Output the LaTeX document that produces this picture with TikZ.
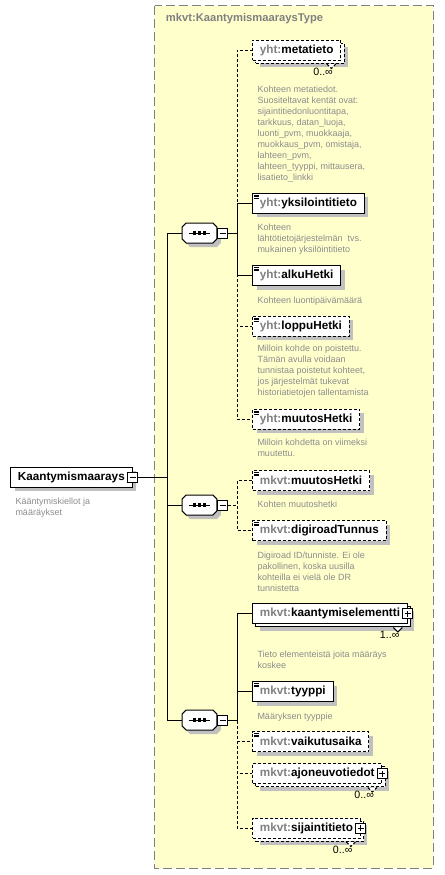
\documentclass[tikz,border=0pt]{standalone}
\usepackage{fontspec}
\setmainfont{Liberation Sans}
\usetikzlibrary{positioning,shadows,shapes.misc,calc}
\definecolor{typefill}{HTML}{FFFFCC}
\definecolor{typeline}{HTML}{808080}
\definecolor{pfx}{HTML}{808080}
\definecolor{doc}{HTML}{8C8C8C}
\definecolor{shade}{HTML}{C0C0C0}

\begin{document}
\begin{tikzpicture}
[x=0.75pt,y=-0.75pt,line width=0.75pt,
 elem/.style={draw,fill=white,anchor=west,minimum height=15pt,inner xsep=5.5pt,inner ysep=0pt,
   font=\fontsize{8.8}{10}\selectfont\bfseries},
 one/.style={drop shadow={shadow xshift=3pt,shadow yshift=-3pt,fill=shade,opacity=1}},
 many/.style={drop shadow={shadow xshift=5.25pt,shadow yshift=-5.25pt,fill=shade,opacity=1},
   general shadow={draw,fill=white,shadow xshift=2.6pt,shadow yshift=-2.6pt}},
 opt/.style={dash pattern=on 2.25pt off 1.5pt},
 leaf/.style={path picture={\foreach \k in {1.5pt,2.6pt,3.7pt}
   \draw[line width=0.5pt,solid] ([xshift=1pt,yshift=-\k]path picture bounding box.north west) -- +(3.8pt,0);}},
 seq/.style={chamfered rectangle,chamfered rectangle xsep=1.5pt,chamfered rectangle ysep=1.5pt,draw,fill=white,
   inner xsep=11.5pt,inner ysep=6pt,one,
   path picture={\draw[line width=0.75pt] ([xshift=-8pt]path picture bounding box.center) -- ([xshift=8pt]path picture bounding box.center);
     \foreach \d in {-3.75pt,0pt,3.75pt}
       \fill[black] ([xshift=\d]path picture bounding box.center) +(-1.2pt,-1.2pt) rectangle +(1.2pt,1.2pt);}},
 tog/.style={draw,fill=white,rectangle,minimum size=7.5pt,inner sep=0pt,solid,
   path picture={\draw ([xshift=1.5pt]path picture bounding box.west) -- ([xshift=-1.5pt]path picture bounding box.east);}},
 plus/.style={draw,fill=white,rectangle,minimum size=7.5pt,inner sep=0pt,solid,
   path picture={\draw ([xshift=1.5pt]path picture bounding box.west) -- ([xshift=-1.5pt]path picture bounding box.east);
     \draw ([yshift=1.5pt]path picture bounding box.south) -- ([yshift=-1.5pt]path picture bounding box.north);}},
 doc/.style={text=doc,font=\fontsize{6.75}{8.25}\selectfont,align=left,inner sep=0pt},
 mult/.style={font=\fontsize{8}{9}\selectfont,inner sep=0pt}]
\useasboundingbox (0,0) rectangle (444,875);
% complex type
\draw[typeline,fill=typefill,dash pattern=on 6.75pt off 3pt] (154.5,5.5) rectangle (433,868);
\node[anchor=west,text=pfx,font=\fontsize{8.4}{10}\selectfont\bfseries] (title) at (161,19) {mkvt:KaantymismaaraysType};

\node[elem,one] (root) at (10,477) {Kaantymismaarays};
\node[tog] (rootm) at (root.east) {};
\node[doc,below=7.5pt of root.south west,anchor=north west,xshift=3.75pt] (rootd) {Kääntymiskiellot ja\\määräykset};
\coordinate (trunk) at (167,477);

\node[seq] (s1) at (199.5,233) {};
\node[tog,right=0pt of s1] (s1m) {};
\node[seq] (s2) at (199.5,505) {};
\node[tog,right=0pt of s2] (s2m) {};
\node[seq] (s3) at (199.5,720) {};
\node[tog,right=0pt of s3] (s3m) {};

% first sequence
\node[elem,many,opt] (meta) at (252,50) {\textcolor{pfx}{yht:}metatieto};
\node[mult,below left=5pt and 6pt of meta.south east] (metan) {0..∞};
\node[doc,below=19pt of meta.south west,anchor=north west,xshift=3.75pt] (metad)
  {Kohteen metatiedot.\\Suositeltavat kentät ovat:\\sijaintitiedonluontitapa,\\tarkkuus, datan\_luoja,\\luonti\_pvm, muokkaaja,\\muokkaus\_pvm, omistaja,\\lahteen\_pvm,\\lahteen\_tyyppi, mittausera,\\lisatieto\_linkki};
\node[elem,one,leaf] (yksil) at (252,203) {\textcolor{pfx}{yht:}yksilointitieto};
\node[doc,below=7.5pt of yksil.south west,anchor=north west,xshift=3.75pt] (yksild)
  {Kohteen\\lähtötietojärjestelmän\ \ tvs.\\mukainen yksilöintitieto};
\node[elem,one,leaf] (alku) at (252,275.5) {\textcolor{pfx}{yht:}alkuHetki};
\node[doc,below=7.5pt of alku.south west,anchor=north west,xshift=3.75pt] (alkud) {Kohteen luontipäivämäärä};
\node[elem,one,leaf,opt] (loppu) at (252,326) {\textcolor{pfx}{yht:}loppuHetki};
\node[doc,below=6pt of loppu.south west,anchor=north west,xshift=3.75pt] (loppud)
  {Milloin kohde on poistettu.\\Tämän avulla voidaan\\tunnistaa poistetut kohteet,\\jos järjestelmät tukevat\\historiatietojen tallentamista};
\node[elem,one,leaf,opt] (hmuu) at (252,419) {\textcolor{pfx}{yht:}muutosHetki};
\node[doc,below=6.75pt of hmuu.south west,anchor=north west,xshift=3.75pt] (hmuud)
  {Milloin kohdetta on viimeksi\\muutettu.};

% second sequence
\node[elem,one,leaf,opt] (mmuu) at (252,480.5) {\textcolor{pfx}{mkvt:}muutosHetki};
\node[doc,below=6.75pt of mmuu.south west,anchor=north west,xshift=3.75pt] (mmuud) {Kohten muutoshetki};
\node[elem,one,leaf,opt] (digi) at (252,530.5) {\textcolor{pfx}{mkvt:}digiroadTunnus};
\node[doc,below=7.5pt of digi.south west,anchor=north west,xshift=3.75pt] (digid)
  {Digiroad ID/tunniste. Ei ole\\pakollinen, koska uusilla\\kohteilla ei vielä ole DR\\tunnistetta};

% third sequence
\node[elem,many] (kelem) at (252,613.5) {\textcolor{pfx}{mkvt:}kaantymiselementti\hspace{6pt}};
\node[plus] (kelemp) at (kelem.east) {};
\node[mult,below left=5pt and 6pt of kelem.south east] (kelemn) {1..∞};
\node[doc,below=19.5pt of kelem.south west,anchor=north west,xshift=3.75pt] (kelemd)
  {Tieto elementeistä joita määräys\\koskee};
\node[elem,one,leaf] (tyyppi) at (252,691.5) {\textcolor{pfx}{mkvt:}tyyppi};
\node[doc,below=7.5pt of tyyppi.south west,anchor=north west,xshift=3.75pt] (tyyppid) {Määryksen tyyppie};
\node[elem,one,leaf,opt] (vaik) at (252,741.5) {\textcolor{pfx}{mkvt:}vaikutusaika};
\node[elem,many,opt] (ajon) at (252,773.5) {\textcolor{pfx}{mkvt:}ajoneuvotiedot\hspace{6pt}};
\node[plus] (ajonp) at (ajon.east) {};
\node[mult,below left=5pt and 6pt of ajon.south east] (ajonn) {0..∞};
\node[elem,many,opt] (sijt) at (252,828) {\textcolor{pfx}{mkvt:}sijaintitieto\hspace{6pt}};
\node[plus] (sijtp) at (sijt.east) {};
\node[mult,below left=5pt and 6pt of sijt.south east] (sijtn) {0..∞};

\foreach \n/\s in {meta/opt,kelem/solid,ajon/opt,sijt/opt}
  \draw[\s,fill=white] ($(\n.south east)+(-14.5,3.5)$) -- ++(4.5,4.5) -- ++(4.5,-4.5);

% connectors
\draw (rootm.east) -- (trunk);
\foreach \s in {s1,s2,s3} \draw (trunk) |- (\s.west);
\foreach \c in {yksil,alku} \draw (s1m.east) -- ++(9,0) |- (\c.west);
\foreach \c in {meta,loppu,hmuu} \draw[opt] (s1m.east) -- ++(9,0) |- (\c.west);
\foreach \c in {mmuu,digi} \draw[opt] (s2m.east) -- ++(9,0) |- (\c.west);
\foreach \c in {kelem,tyyppi} \draw (s3m.east) -- ++(9,0) |- (\c.west);
\foreach \c in {vaik,ajon,sijt} \draw[opt] (s3m.east) -- ++(9,0) |- (\c.west);
\end{tikzpicture}
\end{document}
